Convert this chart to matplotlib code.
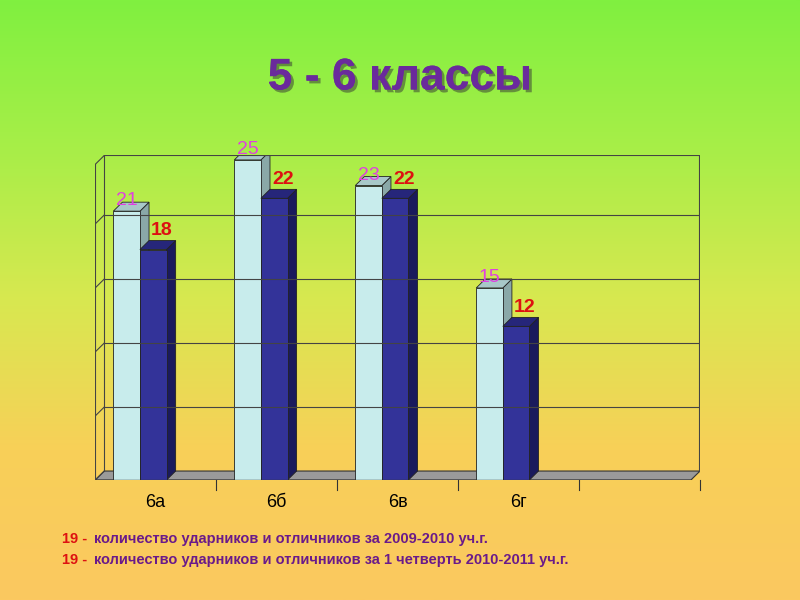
import numpy as np
import matplotlib.pyplot as plt
from matplotlib.patches import Polygon
from matplotlib.colors import LinearSegmentedColormap
import matplotlib.patheffects as pe

categories = ["6а", "6б", "6в", "6г"]
year_2009 = [21, 25, 23, 15]
quarter_2010 = [18, 22, 22, 12]
n_slots = 5

fig = plt.figure(figsize=(8, 6), dpi=100)

# background gradient
bg = fig.add_axes([0, 0, 1, 1])
cmap = LinearSegmentedColormap.from_list("bg", ["#80f040", "#a8ee48", "#d8e850", "#f8d058", "#fbc860"])
grad = np.linspace(0, 1, 256).reshape(-1, 1)
bg.imshow(grad, aspect="auto", cmap=cmap, extent=[0, 1, 0, 1], origin="upper")
bg.axis("off")

fig.text(0.5, 0.87, "5 - 6 классы", ha="center", va="center", fontsize=32,
         fontweight="bold", color="#6a2a9c", family="Liberation Sans",
         path_effects=[pe.withSimplePatchShadow(offset=(2, -2), shadow_rgbFace="#333333", alpha=0.5),
                       pe.Normal()])

ax = fig.add_axes([0.119, 0.2, 0.756, 0.542])
ax.set_xlim(0, n_slots)
ax.set_ylim(0, 25.4)
ax.patch.set_alpha(0)
for s in ax.spines.values():
    s.set_visible(False)
ax.set_yticks([])
ax.set_xticks([i + 0.5 for i in range(len(categories))])
ax.set_xticklabels(categories, fontsize=13, family="Liberation Sans")
ax.tick_params(axis="x", length=0, pad=10)

dx, dy = 0.075, 0.7
top = 25.4 - 0.05
# back wall gridlines and frame
for g in range(5, 25, 5):
    ax.plot([dx, n_slots], [g + dy, g + dy], color="#444444", lw=0.8)
ax.plot([dx, n_slots], [top, top], color="#444444", lw=0.8)
ax.plot([dx, dx], [dy, top], color="#444444", lw=0.8)
ax.plot([n_slots - 0.01, n_slots - 0.01], [dy, top], color="#444444", lw=0.8)
ax.plot([0, 0], [0, top - dy], color="#444444", lw=0.8)
for g in range(0, 25, 5):
    ax.plot([0, dx], [g, g + dy], color="#444444", lw=0.8)
ax.plot([0, dx], [top - dy, top], color="#444444", lw=0.8)
# floor
ax.add_patch(Polygon([(0, 0), (n_slots - dx, 0), (n_slots, dy), (dx, dy)],
                     facecolor="#9a9a9a", edgecolor="#333333", lw=0.8))
ax.plot([0, n_slots - dx], [0, 0], color="#333333", lw=1)
for i in range(1, n_slots + 1):
    ax.plot([i, i], [0, -0.8], color="#333333", lw=0.8, clip_on=False)


def bar3d(x0, w, h, front, side, topc):
    ax.add_patch(Polygon([(x0 + w, 0), (x0 + w + dx, dy), (x0 + w + dx, h + dy), (x0 + w, h)],
                         facecolor=side, edgecolor="#222222", lw=0.6))
    ax.add_patch(Polygon([(x0, h), (x0 + dx, h + dy), (x0 + w + dx, h + dy), (x0 + w, h)],
                         facecolor=topc, edgecolor="#222222", lw=0.6))
    ax.add_patch(Polygon([(x0, 0), (x0 + w, 0), (x0 + w, h), (x0, h)],
                         facecolor=front, edgecolor="#222222", lw=0.6))


w = 0.22
for i, (a, b) in enumerate(zip(year_2009, quarter_2010)):
    x1 = i + 0.15
    x2 = x1 + w
    bar3d(x1, w, a, "#c8ecec", "#8aa8a8", "#a8c8c8")
    bar3d(x2, w, b, "#333399", "#1a1a5c", "#26267a")
    ax.text(x1 + w / 2, a + 0.8, str(a), ha="center", va="center", fontsize=14,
            color="#e040e0", family="Liberation Sans", zorder=5)
    ax.text(x2 + w / 2 + 0.07, b + 1.5, str(b), ha="center", va="center", fontsize=14,
            color="#dd1111", fontweight="bold", family="Liberation Sans")

legend_lines = ["количество ударников и отличников за 2009-2010 уч.г.",
                "количество ударников и отличников за 1 четверть 2010-2011 уч.г."]
for k, line in enumerate(legend_lines):
    y = 0.102 - k * 0.035
    fig.text(0.077, y, "19 -", color="#dd1111", fontsize=10.5, va="center",
             family="Liberation Sans", fontweight="bold")
    fig.text(0.117, y, line, color="#6a1a8a", fontsize=10.5, va="center",
             family="Liberation Sans", fontweight="bold")

fig.savefig("out.png", dpi=100)
